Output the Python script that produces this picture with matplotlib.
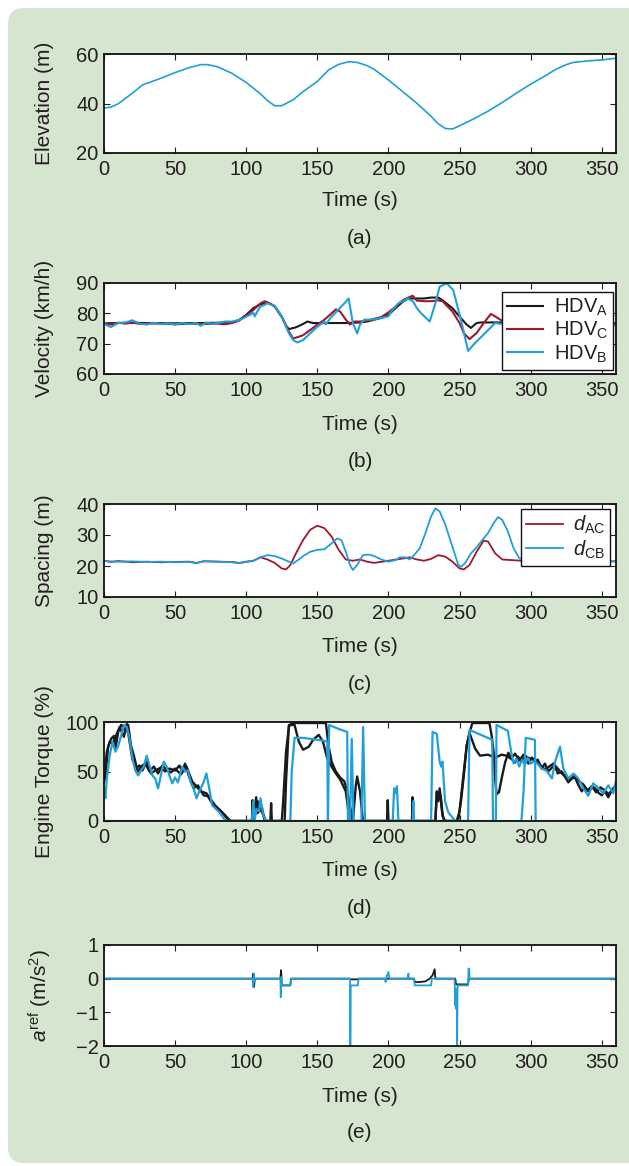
import matplotlib
matplotlib.use('Agg')
import numpy as np
from matplotlib import pyplot as plt
from matplotlib.patches import FancyBboxPatch
from matplotlib.transforms import IdentityTransform

plt.rcParams['font.family'] = ['Liberation Sans', 'DejaVu Sans']
plt.rcParams['mathtext.fontset'] = 'custom'
plt.rcParams['mathtext.rm'] = 'Liberation Sans'
plt.rcParams['mathtext.it'] = 'Liberation Sans:italic'
plt.rcParams['font.size'] = 14.5

# ---- data ----
time_ticks = [0, 50, 100, 150, 200, 250, 300, 350]

# (a) elevation
t_elev = [0, 5, 10, 20, 27, 40, 50, 60, 68, 73, 80, 90, 100, 110, 115, 120, 125, 133, 140, 150,
          158, 165, 172, 178, 185, 190, 200, 210, 220, 230, 235, 240, 245, 250, 260, 270, 280,
          290, 300, 310, 318, 325, 330, 340, 350, 360]
elev = [38.1, 38.6, 39.9, 44.2, 47.5, 50.2, 52.5, 54.5, 55.7, 55.7, 54.8, 52.2, 48.5, 43.9, 41.1,
        39.1, 39.1, 41.5, 44.8, 48.9, 53.6, 55.8, 56.9, 56.6, 55.3, 53.8, 49.5, 44.8, 40.1, 34.8,
        31.8, 29.9, 29.7, 31.0, 33.8, 36.9, 40.4, 44.2, 47.8, 51.1, 53.9, 55.7, 56.6, 57.2, 57.6, 58.3]

# (b) velocity
t_vel_A = [0, 10, 20, 30, 40, 50, 60, 70, 80, 90, 95, 100, 105, 110, 115, 120, 125, 128, 130, 135,
           140, 143, 147, 150, 160, 170, 180, 185, 190, 195, 200, 205, 210, 214, 220, 225, 230, 235,
           238, 245, 250, 255, 258, 262, 265, 275, 290, 310, 330, 350, 360]
vel_A = [76.7, 76.8, 76.9, 76.8, 76.8, 76.7, 76.8, 76.8, 76.9, 77.0, 77.8, 79.5, 81.7, 83.0, 83.5,
         82.4, 78.9, 75.9, 74.8, 75.4, 76.5, 77.3, 76.8, 76.8, 76.8, 76.8, 77.0, 77.3, 77.9, 78.5,
         79.5, 81.7, 83.8, 84.9, 84.9, 84.9, 85.2, 85.2, 84.3, 81.7, 78.9, 76.3, 75.2, 76.8, 77.0,
         77.0, 76.9, 76.8, 76.8, 76.7, 76.7]
t_vel_C = [0, 5, 10, 15, 20, 25, 30, 40, 50, 60, 70, 80, 85, 90, 95, 100, 105, 110, 113, 117, 120,
           125, 130, 133, 137, 140, 145, 150, 155, 160, 163, 166, 170, 173, 176, 180, 185, 195, 200,
           205, 210, 214, 217, 220, 225, 230, 235, 238, 245, 250, 253, 257, 262, 267, 272, 275, 280,
           290, 310, 330, 350, 360]
vel_C = [76.5, 76.3, 76.9, 76.6, 77.0, 76.5, 76.7, 76.6, 76.4, 76.6, 76.5, 76.6, 76.4, 76.8, 77.6,
         79.2, 81.1, 83.3, 84.0, 83.2, 82.2, 78.8, 74.0, 71.7, 72.3, 72.8, 74.5, 76.3, 77.9, 80.0,
         81.3, 80.6, 77.9, 76.3, 77.3, 77.3, 77.6, 78.8, 80.3, 82.2, 84.3, 85.2, 85.8, 84.2, 84.0,
         84.0, 84.3, 84.0, 80.6, 76.8, 73.5, 71.5, 73.5, 76.8, 79.8, 79.0, 77.5, 76.8, 76.7, 76.6,
         76.6, 76.6]
t_vel_B = [0, 3, 5, 8, 10, 15, 20, 25, 30, 35, 40, 45, 50, 55, 60, 65, 68, 72, 75, 80, 85, 90, 95,
           100, 103, 105, 106, 108, 110, 115, 120, 125, 130, 133, 136, 140, 145, 150, 153, 155, 156,
           160, 165, 170, 172, 175, 178, 180, 183, 190, 200, 202, 207, 214, 217.5, 220, 223, 229,
           233, 236, 241, 245.5, 248, 251.5, 256, 261, 268, 275, 280, 290, 310, 330, 350, 360]
vel_B = [76.6, 75.8, 75.5, 76.3, 76.8, 77.0, 77.7, 76.6, 76.3, 76.9, 76.5, 76.7, 76.3, 76.8, 76.5,
         76.8, 75.9, 77.0, 76.6, 76.8, 77.3, 77.3, 77.8, 78.9, 79.6, 80.2, 79.0, 80.8, 82.2, 83.3,
         82.4, 78.9, 73.4, 71.2, 70.4, 71.2, 73.4, 75.6, 76.6, 77.3, 76.4, 78.9, 81.3, 83.8, 84.9,
         76.8, 73.4, 76.3, 77.9, 78.0, 79.0, 80.6, 83.3, 84.9, 83.8, 81.7, 80.0, 77.3, 83.3, 88.8,
         89.9, 87.7, 83.3, 76.8, 67.6, 70.3, 73.5, 76.8, 76.5, 76.3, 76.2, 76.2, 76.1, 76.1]

# (c) spacing
t_dAC = [0, 5, 10, 20, 30, 40, 50, 60, 65, 70, 80, 90, 95, 100, 105, 110, 115, 120, 125, 128, 131,
         135, 140, 145, 150, 155, 160, 165, 170, 175, 180, 185, 190, 200, 210, 215, 220, 225, 230,
         235, 240, 245, 250, 253, 257, 262, 267, 270, 275, 280, 290, 300, 320, 340, 360]
d_AC = [21.7, 21.3, 21.6, 21.2, 21.4, 21.2, 21.3, 21.4, 21.0, 21.5, 21.4, 21.3, 21.0, 21.4, 21.7,
        22.8, 22.1, 21.0, 19.2, 18.9, 20.3, 24.1, 28.4, 31.7, 33.0, 32.2, 29.5, 25.2, 22.1, 21.7,
        22.1, 21.4, 21.0, 21.7, 22.4, 22.8, 22.1, 21.7, 22.3, 23.5, 23.0, 21.4, 19.2, 18.9, 20.3,
        24.6, 28.2, 27.9, 24.1, 22.1, 21.8, 21.6, 21.5, 21.5, 21.5]
t_dCB = [0, 5, 10, 20, 30, 40, 50, 60, 65, 70, 80, 90, 95, 100, 105, 110, 115, 120, 125, 130, 133,
         137, 140, 145, 150, 155, 160, 164, 167, 170, 173, 175, 178, 182, 186, 190, 195, 200, 205,
         208, 212, 215, 218, 222, 226, 230, 233, 236, 240, 245, 249, 251, 254, 258, 262, 266, 270,
         274, 277, 280, 284, 288, 292, 300, 320, 340, 360]
d_CB = [21.6, 21.5, 21.4, 21.5, 21.3, 21.4, 21.2, 21.3, 20.9, 21.6, 21.4, 21.2, 20.9, 21.3, 21.6,
        22.8, 23.5, 23.2, 22.4, 21.4, 20.8, 22.1, 23.2, 24.6, 25.2, 25.4, 27.3, 28.9, 28.3, 24.6,
        20.3, 18.7, 20.3, 23.5, 23.7, 23.2, 22.1, 21.4, 21.9, 22.8, 22.8, 22.1, 23.5, 25.7, 30.6,
        36.0, 38.6, 37.6, 33.3, 26.2, 20.5, 19.7, 21.0, 24.1, 26.0, 28.4, 30.6, 33.8, 35.8, 34.9,
        31.1, 25.7, 22.5, 21.6, 21.5, 21.5, 21.5]

# (d) engine torque, two black and two blue traces
t_tq_k1 = [0, 1, 3, 5, 7, 8, 10, 12, 13, 15, 17, 19, 21, 23, 25, 27, 30, 33, 36, 40, 43, 46, 50, 53,
           55, 57, 60, 63, 66, 70, 73, 76, 80, 83, 86, 88, 104, 104.5, 105, 107, 108, 110, 112, 114,
           117, 117.5, 118, 125, 126, 128, 130, 132, 140, 150, 156, 158, 160, 163, 166, 169, 171,
           173, 175, 177, 178, 180, 182, 199, 199.5, 200, 216.5, 217, 217.5, 233, 234, 235, 236,
           237, 238, 239, 249, 251, 253, 255, 257, 259, 265, 271, 272.6, 274, 275, 276, 277.7,
           279.6, 282, 284.3, 287, 289, 291, 293.7, 296, 298.4, 301, 303, 305, 307.7, 310, 312.4,
           315, 317, 319, 321.8, 324, 326.5, 329, 331.2, 333, 335.9, 338, 340.5, 343, 345.2, 348,
           350, 352, 354.6, 357, 359.3, 360]
tq_k1 = [39, 46, 76, 83, 86, 73, 90, 97, 96, 90, 97, 76, 66, 54, 56, 51, 60, 48, 51, 54, 50, 53, 51,
         56, 50, 58, 44, 33, 36, 26, 25, 18, 13, 9, 3.5, 0, 0, 21, 0, 24, 8, 12, 6, 0, 0, 18, 0, 0,
         20, 70, 95, 99, 99, 99, 99, 75, 60, 50, 44, 40, 30, 15, 0, 35, 45, 30, 0, 0, 21, 0, 0, 24,
         0, 0, 28, 20, 33, 22, 8, 0, 0, 20, 46, 76, 89, 99, 99, 99, 86, 69, 43, 27, 29, 43, 59, 69,
         62, 59, 65, 60, 66, 58, 64, 60, 62, 53, 58, 50, 54, 56, 48, 50, 45, 39, 43, 44, 38, 30, 34,
         30, 35, 33, 28, 26, 30, 24, 31, 33, 37]
t_tq_k2 = [0, 2, 4, 6, 9, 11, 14, 16, 18, 20, 22, 24, 26, 29, 32, 35, 38, 41, 44, 47, 50, 54, 58, 62,
           65, 68, 72, 75, 78, 82, 85, 89, 104, 105, 106, 108, 109, 111, 113, 127, 128, 130, 134,
           137, 140, 144, 147, 151, 154, 157, 160, 163, 166, 170, 172, 174, 199, 233, 234, 235,
           236.5, 238, 240, 248, 250, 252.7, 255, 257, 261, 264.4, 270, 275, 279.6, 283, 286, 289,
           292, 295, 298, 301, 304, 307, 310, 313, 316, 319, 322, 325, 328, 331, 334, 337, 340, 343,
           346, 349, 352, 355, 358, 360]
tq_k2 = [42, 70, 80, 78, 88, 95, 85, 98, 80, 62, 57, 50, 55, 58, 50, 55, 48, 56, 52, 49, 53, 47, 55,
         40, 35, 30, 28, 22, 16, 10, 6, 0, 0, 15, 5, 20, 10, 14, 0, 0, 40, 97, 97, 80, 72, 75, 82,
         87, 80, 63, 55, 48, 42, 30, 8, 0, 0, 0, 30, 22, 25, 5, 0, 0, 10, 46, 76, 89, 73, 66, 67,
         64, 67, 66, 63, 68, 61, 67, 64, 63, 60, 56, 52, 55, 58, 53, 48, 44, 42, 46, 40, 37, 31,
         35, 29, 34, 31, 27, 33, 36]
t_tq_b1 = [0, 1, 2, 4, 6, 8, 10, 12, 14, 16, 18, 20, 22, 24, 26, 28, 30, 32, 34, 36, 38, 40, 42, 44,
           46, 48, 50, 52, 55, 57, 59, 61, 63, 65, 67, 70, 72, 74, 76, 78, 81, 84, 86, 104, 105,
           106, 107, 109, 110, 112, 114, 131, 132, 134, 140, 150, 155, 157, 157.4, 173, 174.2,
           175.4, 181, 182.2, 183.5, 203, 204, 205, 206, 207, 217, 217.5, 218, 230, 231, 234, 236,
           237, 238, 239.8, 242, 247, 256, 257, 265, 273, 273.5, 293.5, 295, 296.5, 300, 303,
           303.5, 360]
tq_b1 = [33, 23, 43, 66, 80, 70, 76, 86, 97, 95, 83, 63, 51, 46, 51, 55, 66, 56, 46, 43, 33, 46, 60,
         55, 46, 38, 44, 39, 55, 50, 51, 39, 33, 23, 30, 39, 48, 33, 16, 13, 9, 3, 0, 0, 20, 0, 12,
         10, 23, 6, 0, 0, 50, 84, 84, 82, 81, 80, 0, 0, 83, 0, 0, 95, 0, 0, 33, 28, 35, 0, 0, 20, 0,
         0, 90, 88, 60, 55, 60, 20, 9, 0, 0, 92, 87, 82, 0, 0, 30, 84, 83, 82, 0, 0]
t_tq_b2 = [0, 157.5, 158.3, 165, 171, 171.5, 275.5, 276, 284, 286.6, 288, 290, 292, 294, 296, 298,
           300, 302, 304, 307.7, 311, 315, 317, 320.6, 323, 326.5, 330, 333.5, 337, 340.5, 344,
           347.6, 351, 354.6, 358.1, 360]
tq_b2 = [0, 0, 97, 93, 90, 0, 0, 97, 91, 67, 58, 63, 55, 62, 57, 64, 58, 60, 59, 53, 51, 43, 59, 75,
         53, 43, 48, 43, 33, 25.5, 38, 33, 28, 36, 28, 41]

# (e) reference acceleration
t_acc_A = [0, 104.5, 105, 105.5, 106, 124, 124.5, 125, 131, 131.5, 173, 173.5, 178.5, 179, 218,
           218.5, 222, 226, 229, 231, 232.5, 233, 247, 247.5, 256, 256.5, 360]
acc_A = [0, 0, 0.15, -0.25, 0, 0, 0.25, -0.2, -0.2, 0, 0, -0.02, -0.02, 0, 0, -0.1, -0.1, -0.08,
         0, 0.1, 0.28, 0, 0, -0.17, -0.17, 0, 0]
t_acc_B = [0, 104.5, 105, 105.3, 105.7, 106, 124, 124.3, 124.7, 125, 131, 131.5, 173, 173.2, 173.5,
           178.5, 179, 197.5, 198, 199, 200, 200.5, 201, 213.5, 214, 214.5, 218, 218.5, 230, 230.5,
           246.5, 247, 247.3, 247.6, 248, 248.3, 248.6, 249, 256, 256.3, 256.8, 257, 360]
acc_B = [0, 0, -0.25, 0.15, -0.1, 0, 0, -0.55, 0.05, -0.2, -0.2, 0, 0, -2.0, -0.2, -0.2, 0, 0,
         -0.1, 0.1, 0.2, 0.05, 0, 0, 0.15, 0, 0, -0.2, -0.2, 0, 0, -0.8, -0.3, -0.9, -0.4, -2.0,
         -0.2, -0.2, -0.2, 0.3, 0.3, 0, 0]

# ---- styling ----
c_black = '#1a1a1a'
c_red = '#a0182e'
c_blue = '#1f9fdb'
c_bg = '#d5e5d0'
c_text = '#231f20'
fs_tick = 14.5
fs_label = 15

W, H = 629, 1166
fig = plt.figure(figsize=(W / 100, H / 100), dpi=100)
fig.patch.set_facecolor('white')
bg = FancyBboxPatch((8, 3), 660, 1155, boxstyle='round,pad=0,rounding_size=16',
                    transform=IdentityTransform(), facecolor=c_bg, edgecolor='none', zorder=-5)
fig.add_artist(bg)


def make_axes(top, bottom, ylim, yticks, ylabel, letter, time_y, letter_y):
   ax = fig.add_axes([104 / W, 1 - bottom / H, 512 / W, (bottom - top) / H])
   ax.set_xlim(0, 360)
   ax.set_ylim(*ylim)
   ax.set_xticks(time_ticks)
   ax.set_yticks(yticks)
   ax.tick_params(direction='in', top=True, right=True, length=4, width=0.8, pad=5,
                  labelsize=fs_tick, colors=c_text)
   ax.tick_params(axis='y', pad=4)
   for s in ax.spines.values():
      s.set_linewidth(1.3)
      s.set_color('#111111')
   ax.set_ylabel(ylabel, fontsize=fs_label, color=c_text)
   ax.yaxis.set_label_coords(-0.097, 0.5)
   fig.text(360 / W, 1 - time_y / H, 'Time (s)', ha='center', va='center',
            fontsize=fs_label, color=c_text)
   fig.text(360 / W, 1 - letter_y / H, letter, ha='center', va='center',
            fontsize=fs_label, color=c_text)
   return ax


def boxed_legend(ax, anchor):
   leg = ax.legend(loc='upper right', bbox_to_anchor=anchor, fancybox=False,
                   framealpha=1, edgecolor='#111111', handlelength=1.8, labelspacing=0.1,
                   borderpad=0.25, handletextpad=0.5, borderaxespad=0, fontsize=fs_tick)
   leg.get_frame().set_linewidth(1.0)
   for txt in leg.get_texts():
      txt.set_color(c_text)
   return leg


ax_a = make_axes(54, 153, (20, 60), [20, 40, 60], 'Elevation (m)', '(a)', 201, 238)
ax_a.plot(t_elev, elev, color=c_blue, lw=1.2)

ax_b = make_axes(283, 374, (60, 90), [60, 70, 80, 90], 'Velocity (km/h)', '(b)', 425, 461)
ax_b.plot(t_vel_A, vel_A, color=c_black, lw=1.5, label=r'HDV$_\mathrm{A}$')
ax_b.plot(t_vel_C, vel_C, color=c_red, lw=1.5, label=r'HDV$_\mathrm{C}$')
ax_b.plot(t_vel_B, vel_B, color=c_blue, lw=1.5, label=r'HDV$_\mathrm{B}$')
boxed_legend(ax_b, (0.994, 0.905))

ax_c = make_axes(504, 597, (10, 40), [10, 20, 30, 40], 'Spacing (m)', '(c)', 647, 685)
ax_c.plot(t_dAC, d_AC, color=c_red, lw=1.3, label=r'$d_{\mathrm{AC}}$')
ax_c.plot(t_dCB, d_CB, color=c_blue, lw=1.3, label=r'$d_{\mathrm{CB}}$')
boxed_legend(ax_c, (0.988, 0.946))

ax_d = make_axes(722, 821, (0, 100), [0, 50, 100], 'Engine Torque (%)', '(d)', 870, 908)
ax_d.plot(t_tq_k1, tq_k1, color=c_black, lw=1.7)
ax_d.plot(t_tq_k2, tq_k2, color=c_black, lw=1.7)
ax_d.plot(t_tq_b1, tq_b1, color=c_blue, lw=1.6)
ax_d.plot(t_tq_b2, tq_b2, color=c_blue, lw=1.6)

ax_e = make_axes(945, 1046, (-2, 1), [-2, -1, 0, 1], r'$a^{\mathrm{ref}}$ (m/s$^2$)', '(e)', 1097, 1133)
ax_e.plot(t_acc_A, acc_A, color=c_black, lw=1.3)
ax_e.plot(t_acc_B, acc_B, color=c_blue, lw=1.3)

fig.savefig('out.png', dpi=100)
